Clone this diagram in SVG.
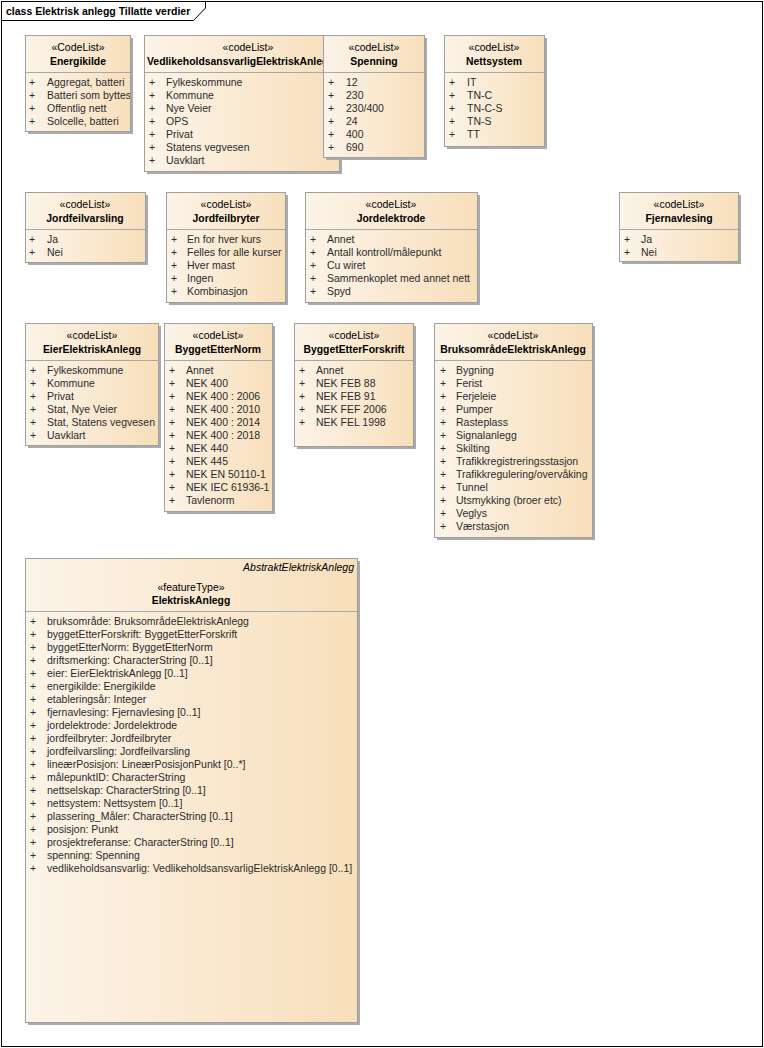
<svg xmlns="http://www.w3.org/2000/svg" width="764" height="1048" viewBox="0 0 764 1048">
<defs>
<linearGradient id="g" x1="0" y1="0" x2="1" y2="0">
<stop offset="0" stop-color="#FCF4E9"/>
<stop offset="1" stop-color="#F8DFBB"/>
</linearGradient>
<clipPath id="cEn"><rect x="25" y="35" width="105" height="96"/></clipPath>
<clipPath id="cVe"><rect x="144" y="35" width="195" height="136"/></clipPath>
</defs>
<style>
.sh{fill:#ABABAB;}
.bx{fill:url(#g);stroke:#A0A0A0;stroke-width:1;}
.dv{stroke:#A8A8A8;stroke-width:1;}
text{font-family:"Liberation Sans",Arial,sans-serif;font-size:10.5px;fill:#2B2B2B;}
.st{text-anchor:middle;fill:#000;}
.nm{text-anchor:middle;font-weight:bold;font-size:10.4px;fill:#000;}
.ab{text-anchor:end;font-style:italic;fill:#000;}
.fr{fill:none;stroke:#000;stroke-width:1;}
.tt{font-weight:bold;font-size:10.5px;fill:#000;}
</style>
<rect x="0" y="0" width="764" height="1048" fill="#fff"/>
<g id="frame">
<rect class="fr" x="1.5" y="1.5" width="761" height="1045"/>
<path class="fr" d="M1.5,20.5 H193.5 L205.5,8 V1.5"/>
<text class="tt" x="6" y="15">class Elektrisk anlegg Tillatte verdier</text>
</g>

<g id="Energikilde">
<rect class="sh" x="28" y="38" width="105" height="96"/>
<rect class="bx" x="25.5" y="35.5" width="105" height="96"/>
<line class="dv" x1="25.5" y1="72.5" x2="130.5" y2="72.5"/>
<text class="st" x="78" y="51">«CodeList»</text>
<text class="nm" x="78" y="65">Energikilde</text>
<g clip-path="url(#cEn)">
<text x="29" y="86">+</text><text x="47" y="86">Aggregat, batteri</text>
<text x="29" y="99">+</text><text x="47" y="99">Batteri som byttes</text>
<text x="29" y="112">+</text><text x="47" y="112">Offentlig nett</text>
<text x="29" y="125">+</text><text x="47" y="125">Solcelle, batteri</text>
</g>
</g>

<g id="VedlikeholdsansvarligElektriskAnlegg">
<rect class="sh" x="147" y="38" width="195" height="136"/>
<rect class="bx" x="144.5" y="35.5" width="195" height="136"/>
<line class="dv" x1="144.5" y1="72.5" x2="339.5" y2="72.5"/>
<g clip-path="url(#cVe)">
<text class="st" x="248" y="51">«codeList»</text>
<text class="nm" x="147" y="65" style="text-anchor:start">VedlikeholdsansvarligElektriskAnlegg</text>
<text x="149" y="86">+</text><text x="166" y="86">Fylkeskommune</text>
<text x="149" y="99">+</text><text x="166" y="99">Kommune</text>
<text x="149" y="112">+</text><text x="166" y="112">Nye Veier</text>
<text x="149" y="125">+</text><text x="166" y="125">OPS</text>
<text x="149" y="138">+</text><text x="166" y="138">Privat</text>
<text x="149" y="151">+</text><text x="166" y="151">Statens vegvesen</text>
<text x="149" y="164">+</text><text x="166" y="164">Uavklart</text>
</g>
</g>

<g id="Spenning">
<rect class="sh" x="326" y="38" width="101" height="122"/>
<rect class="bx" x="323.5" y="35.5" width="101" height="122"/>
<line class="dv" x1="323.5" y1="72.5" x2="424.5" y2="72.5"/>
<text class="st" x="374" y="51">«codeList»</text>
<text class="nm" x="374" y="65">Spenning</text>
<text x="328" y="86">+</text><text x="346" y="86">12</text>
<text x="328" y="99">+</text><text x="346" y="99">230</text>
<text x="328" y="112">+</text><text x="346" y="112">230/400</text>
<text x="328" y="125">+</text><text x="346" y="125">24</text>
<text x="328" y="138">+</text><text x="346" y="138">400</text>
<text x="328" y="151">+</text><text x="346" y="151">690</text>
</g>

<g id="Nettsystem">
<rect class="sh" x="447" y="38" width="100" height="111"/>
<rect class="bx" x="444.5" y="35.5" width="100" height="111"/>
<line class="dv" x1="444.5" y1="72.5" x2="544.5" y2="72.5"/>
<text class="st" x="494" y="51">«codeList»</text>
<text class="nm" x="494" y="65">Nettsystem</text>
<text x="449" y="86">+</text><text x="467" y="86">IT</text>
<text x="449" y="99">+</text><text x="467" y="99">TN-C</text>
<text x="449" y="112">+</text><text x="467" y="112">TN-C-S</text>
<text x="449" y="125">+</text><text x="467" y="125">TN-S</text>
<text x="449" y="138">+</text><text x="467" y="138">TT</text>
</g>

<g id="Jordfeilvarsling">
<rect class="sh" x="28" y="195" width="120" height="70"/>
<rect class="bx" x="25.5" y="192.5" width="120" height="70"/>
<line class="dv" x1="25.5" y1="229.5" x2="145.5" y2="229.5"/>
<text class="st" x="85" y="208">«codeList»</text>
<text class="nm" x="85" y="222">Jordfeilvarsling</text>
<text x="29" y="243">+</text><text x="47" y="243">Ja</text>
<text x="29" y="256">+</text><text x="47" y="256">Nei</text>
</g>

<g id="Jordfeilbryter">
<rect class="sh" x="169" y="195" width="119" height="110"/>
<rect class="bx" x="166.5" y="192.5" width="119" height="110"/>
<line class="dv" x1="166.5" y1="229.5" x2="285.5" y2="229.5"/>
<text class="st" x="226" y="208">«codeList»</text>
<text class="nm" x="226" y="222">Jordfeilbryter</text>
<text x="171" y="243">+</text><text x="187" y="243">En for hver kurs</text>
<text x="171" y="256">+</text><text x="187" y="256">Felles for alle kurser</text>
<text x="171" y="269">+</text><text x="187" y="269">Hver mast</text>
<text x="171" y="282">+</text><text x="187" y="282">Ingen</text>
<text x="171" y="295">+</text><text x="187" y="295">Kombinasjon</text>
</g>

<g id="Jordelektrode">
<rect class="sh" x="308" y="195" width="172" height="110"/>
<rect class="bx" x="305.5" y="192.5" width="172" height="110"/>
<line class="dv" x1="305.5" y1="229.5" x2="477.5" y2="229.5"/>
<text class="st" x="391" y="208">«codeList»</text>
<text class="nm" x="391" y="222">Jordelektrode</text>
<text x="310" y="243">+</text><text x="327" y="243">Annet</text>
<text x="310" y="256">+</text><text x="327" y="256">Antall kontroll/målepunkt</text>
<text x="310" y="269">+</text><text x="327" y="269">Cu wiret</text>
<text x="310" y="282">+</text><text x="327" y="282">Sammenkoplet med annet nett</text>
<text x="310" y="295">+</text><text x="327" y="295">Spyd</text>
</g>

<g id="Fjernavlesing">
<rect class="sh" x="622" y="195" width="119" height="69"/>
<rect class="bx" x="619.5" y="192.5" width="119" height="69"/>
<line class="dv" x1="619.5" y1="229.5" x2="738.5" y2="229.5"/>
<text class="st" x="679" y="208">«codeList»</text>
<text class="nm" x="679" y="222">Fjernavlesing</text>
<text x="624" y="243">+</text><text x="641" y="243">Ja</text>
<text x="624" y="256">+</text><text x="641" y="256">Nei</text>
</g>

<g id="EierElektriskAnlegg">
<rect class="sh" x="28" y="326" width="133" height="122"/>
<rect class="bx" x="25.5" y="323.5" width="133" height="122"/>
<line class="dv" x1="25.5" y1="360.5" x2="158.5" y2="360.5"/>
<text class="st" x="92" y="339">«codeList»</text>
<text class="nm" x="92" y="353">EierElektriskAnlegg</text>
<text x="30" y="374">+</text><text x="47" y="374">Fylkeskommune</text>
<text x="30" y="387">+</text><text x="47" y="387">Kommune</text>
<text x="30" y="400">+</text><text x="47" y="400">Privat</text>
<text x="30" y="413">+</text><text x="47" y="413">Stat, Nye Veier</text>
<text x="30" y="426">+</text><text x="47" y="426">Stat, Statens vegvesen</text>
<text x="30" y="439">+</text><text x="47" y="439">Uavklart</text>
</g>

<g id="ByggetEtterNorm">
<rect class="sh" x="167" y="326" width="108" height="188"/>
<rect class="bx" x="164.5" y="323.5" width="108" height="188"/>
<line class="dv" x1="164.5" y1="360.5" x2="272.5" y2="360.5"/>
<text class="st" x="218" y="339">«codeList»</text>
<text class="nm" x="218" y="353">ByggetEtterNorm</text>
<text x="169" y="374">+</text><text x="186" y="374">Annet</text>
<text x="169" y="387">+</text><text x="186" y="387">NEK 400</text>
<text x="169" y="400">+</text><text x="186" y="400">NEK 400 : 2006</text>
<text x="169" y="413">+</text><text x="186" y="413">NEK 400 : 2010</text>
<text x="169" y="426">+</text><text x="186" y="426">NEK 400 : 2014</text>
<text x="169" y="439">+</text><text x="186" y="439">NEK 400 : 2018</text>
<text x="169" y="452">+</text><text x="186" y="452">NEK 440</text>
<text x="169" y="465">+</text><text x="186" y="465">NEK 445</text>
<text x="169" y="478">+</text><text x="186" y="478">NEK EN 50110-1</text>
<text x="169" y="491">+</text><text x="186" y="491">NEK IEC 61936-1</text>
<text x="169" y="504">+</text><text x="186" y="504">Tavlenorm</text>
</g>

<g id="ByggetEtterForskrift">
<rect class="sh" x="297" y="326" width="119" height="123"/>
<rect class="bx" x="294.5" y="323.5" width="119" height="123"/>
<line class="dv" x1="294.5" y1="360.5" x2="413.5" y2="360.5"/>
<text class="st" x="354" y="339">«codeList»</text>
<text class="nm" x="354" y="353">ByggetEtterForskrift</text>
<text x="299" y="374">+</text><text x="316" y="374">Annet</text>
<text x="299" y="387">+</text><text x="316" y="387">NEK FEB 88</text>
<text x="299" y="400">+</text><text x="316" y="400">NEK FEB 91</text>
<text x="299" y="413">+</text><text x="316" y="413">NEK FEF 2006</text>
<text x="299" y="426">+</text><text x="316" y="426">NEK FEL 1998</text>
</g>

<g id="BruksomradeElektriskAnlegg">
<rect class="sh" x="437" y="326" width="158" height="214"/>
<rect class="bx" x="434.5" y="323.5" width="158" height="214"/>
<line class="dv" x1="434.5" y1="360.5" x2="592.5" y2="360.5"/>
<text class="st" x="513" y="339">«codeList»</text>
<text class="nm" x="513" y="353">BruksområdeElektriskAnlegg</text>
<text x="440" y="374">+</text><text x="456" y="374">Bygning</text>
<text x="440" y="387">+</text><text x="456" y="387">Ferist</text>
<text x="440" y="400">+</text><text x="456" y="400">Ferjeleie</text>
<text x="440" y="413">+</text><text x="456" y="413">Pumper</text>
<text x="440" y="426">+</text><text x="456" y="426">Rasteplass</text>
<text x="440" y="439">+</text><text x="456" y="439">Signalanlegg</text>
<text x="440" y="452">+</text><text x="456" y="452">Skilting</text>
<text x="440" y="465">+</text><text x="456" y="465">Trafikkregistreringsstasjon</text>
<text x="440" y="478">+</text><text x="456" y="478">Trafikkregulering/overvåking</text>
<text x="440" y="491">+</text><text x="456" y="491">Tunnel</text>
<text x="440" y="504">+</text><text x="456" y="504">Utsmykking (broer etc)</text>
<text x="440" y="517">+</text><text x="456" y="517">Veglys</text>
<text x="440" y="530">+</text><text x="456" y="530">Værstasjon</text>
</g>

<g id="ElektriskAnlegg">
<rect class="sh" x="28" y="561" width="332" height="464"/>
<rect class="bx" x="25.5" y="558.5" width="332" height="464"/>
<line class="dv" x1="25.5" y1="611.5" x2="357.5" y2="611.5"/>
<text class="ab" x="354" y="571">AbstraktElektriskAnlegg</text>
<text class="st" x="191" y="591">«featureType»</text>
<text class="nm" x="191" y="604">ElektriskAnlegg</text>
<text x="30" y="625">+</text><text x="47" y="625">bruksområde: BruksområdeElektriskAnlegg</text>
<text x="30" y="638">+</text><text x="47" y="638">byggetEtterForskrift: ByggetEtterForskrift</text>
<text x="30" y="651">+</text><text x="47" y="651">byggetEtterNorm: ByggetEtterNorm</text>
<text x="30" y="664">+</text><text x="47" y="664">driftsmerking: CharacterString [0..1]</text>
<text x="30" y="677">+</text><text x="47" y="677">eier: EierElektriskAnlegg [0..1]</text>
<text x="30" y="690">+</text><text x="47" y="690">energikilde: Energikilde</text>
<text x="30" y="703">+</text><text x="47" y="703">etableringsår: Integer</text>
<text x="30" y="716">+</text><text x="47" y="716">fjernavlesing: Fjernavlesing [0..1]</text>
<text x="30" y="729">+</text><text x="47" y="729">jordelektrode: Jordelektrode</text>
<text x="30" y="742">+</text><text x="47" y="742">jordfeilbryter: Jordfeilbryter</text>
<text x="30" y="755">+</text><text x="47" y="755">jordfeilvarsling: Jordfeilvarsling</text>
<text x="30" y="768">+</text><text x="47" y="768">lineærPosisjon: LineærPosisjonPunkt [0..*]</text>
<text x="30" y="781">+</text><text x="47" y="781">målepunktID: CharacterString</text>
<text x="30" y="794">+</text><text x="47" y="794">nettselskap: CharacterString [0..1]</text>
<text x="30" y="807">+</text><text x="47" y="807">nettsystem: Nettsystem [0..1]</text>
<text x="30" y="820">+</text><text x="47" y="820">plassering_Måler: CharacterString [0..1]</text>
<text x="30" y="833">+</text><text x="47" y="833">posisjon: Punkt</text>
<text x="30" y="846">+</text><text x="47" y="846">prosjektreferanse: CharacterString [0..1]</text>
<text x="30" y="859">+</text><text x="47" y="859">spenning: Spenning</text>
<text x="30" y="872">+</text><text x="47" y="872">vedlikeholdsansvarlig: VedlikeholdsansvarligElektriskAnlegg [0..1]</text>
</g>
</svg>
